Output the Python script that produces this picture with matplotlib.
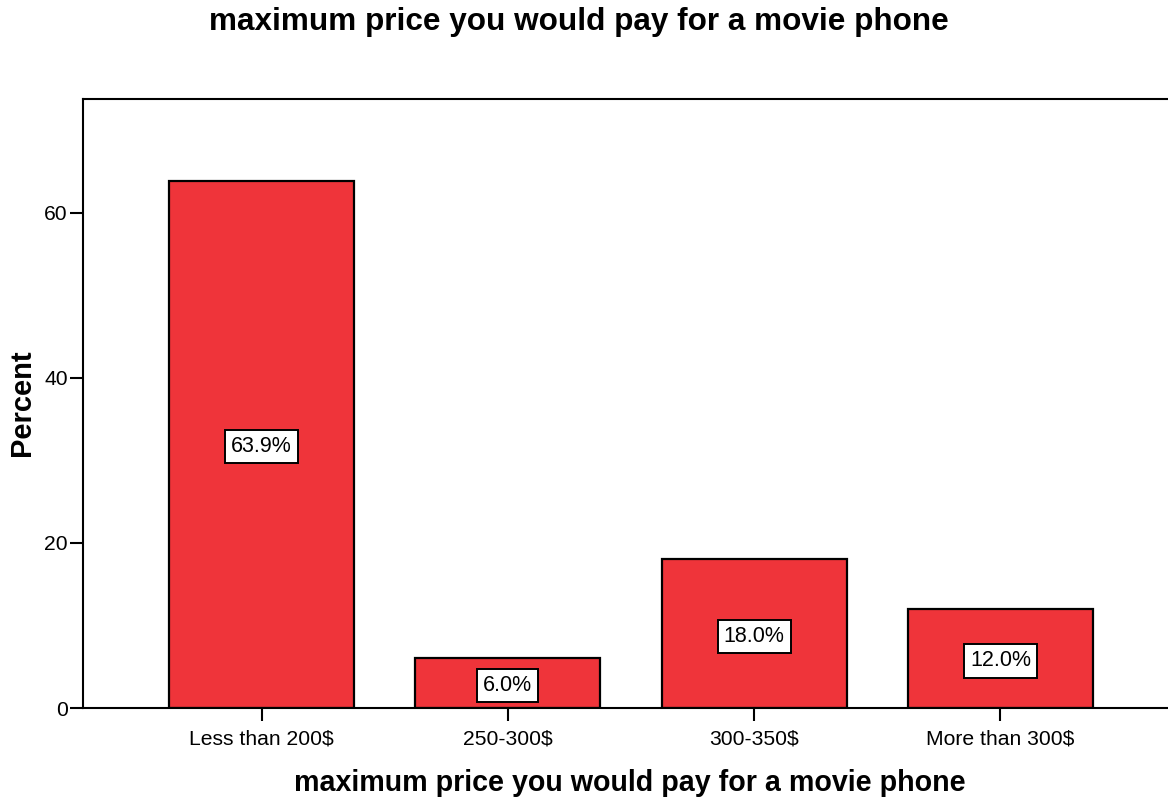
import matplotlib.pyplot as plt

plt.rcParams['font.family'] = ['Liberation Sans', 'DejaVu Sans']

# 最高可接受价格 — 百分比
categories = ['Less than 200$', '250-300$', '300-350$', 'More than 300$']
percents = [63.9, 6.0, 18.0, 12.0]
bar_color = '#EF343A'

W, H = 1168, 802
fig = plt.figure(figsize=(W / 100, H / 100), dpi=100)
# 坐标框右边超出画布
ax = fig.add_axes([83 / W, 1 - 708 / H, 1096 / W, (708 - 99) / H])

x = range(len(categories))
ax.bar(x, percents, width=0.75, color=bar_color, edgecolor='black', linewidth=1.6, zorder=2)

for xi, v in zip(x, percents):
    ax.text(xi, v / 2, f'{v:.1f}%', ha='center', va='center_baseline', fontsize=15.5,
            bbox=dict(boxstyle='square,pad=0.28', facecolor='white', edgecolor='black', linewidth=1.4),
            zorder=3)

ax.set_xlim(-0.725, 3.725)
ax.set_ylim(0, 73.8)
ax.set_yticks([0, 20, 40, 60])
ax.set_xticks(list(x))
ax.set_xticklabels(categories)
ax.tick_params(axis='both', direction='out', length=9.5, width=1.5, labelsize=15.2, pad=1.5)
ax.tick_params(axis='x', pad=6)
for s in ax.spines.values():
    s.set_linewidth(1.5)

fig.text(22 / W, 1 - 403 / H, 'Percent', rotation=90, ha='center', va='center',
         fontsize=21, fontweight='bold')
fig.text(630 / W, 1 - 783 / H, 'maximum price you would pay for a movie phone',
         ha='center', va='center', fontsize=20.6, fontweight='bold')
fig.text(579 / W, 1 - 22 / H, 'maximum price you would pay for a movie phone',
         ha='center', va='center', fontsize=22.7, fontweight='bold')

fig.savefig('out.png', dpi=100)
